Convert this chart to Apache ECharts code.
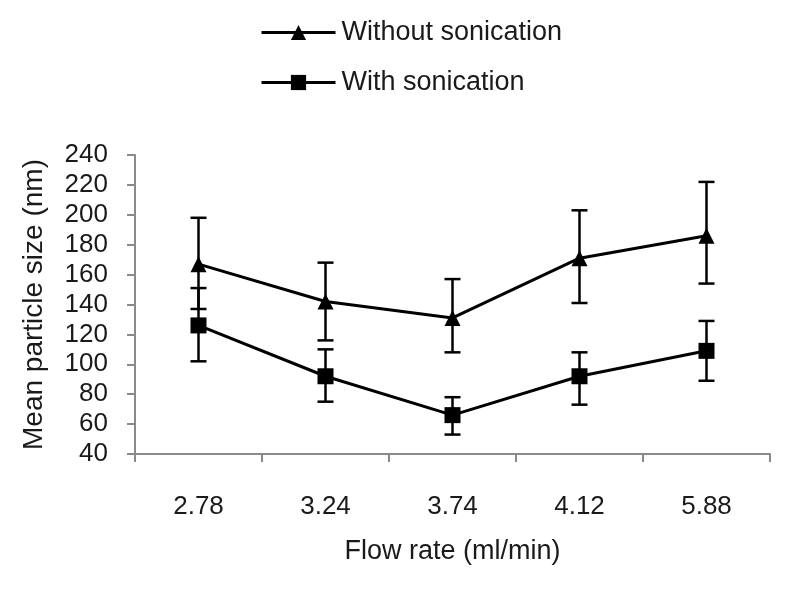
<!DOCTYPE html>
<html>
<head>
<meta charset="utf-8">
<script src="https://cdn.jsdelivr.net/npm/echarts@6/dist/echarts.min.js"></script>
<style>html,body{margin:0;padding:0;background:#fff;}#c{width:800px;height:592px;}</style>
</head>
<body>
<div id="c"></div>
<script>
var categories = ['2.78', '3.24', '3.74', '4.12', '5.88'];
var withoutMean = [167, 142, 131, 171, 186];
var withoutLow = [137, 116, 108, 141, 154];
var withoutHigh = [198, 168, 157, 203, 222];
var withMean = [126, 92, 66, 92, 109];
var withLow = [102, 75, 53, 73, 89];
var withHigh = [151, 110, 78, 108, 129];
var yTicks = [40, 60, 80, 100, 120, 140, 160, 180, 200, 220, 240];

var FONT = '"Liberation Sans", Arial, sans-serif';
var TXT = '#1a1a1a';

function errData(lo, hi) {
  return lo.map(function (v, i) { return [i, v, hi[i]]; });
}
function renderErr(params, api) {
  var x = api.value(0);
  var lo = api.coord([x, api.value(1)]);
  var hi = api.coord([x, api.value(2)]);
  var w = 8;
  var st = { stroke: '#000', lineWidth: 2.5 };
  return {
    type: 'group',
    children: [
      { type: 'line', shape: { x1: hi[0], y1: hi[1], x2: lo[0], y2: lo[1] }, style: st },
      { type: 'line', shape: { x1: hi[0] - w, y1: hi[1], x2: hi[0] + w, y2: hi[1] }, style: st },
      { type: 'line', shape: { x1: lo[0] - w, y1: lo[1], x2: lo[0] + w, y2: lo[1] }, style: st }
    ]
  };
}

var chart = echarts.init(document.getElementById('c'), null, { renderer: 'canvas' });
chart.setOption({
  animation: false,
  backgroundColor: '#fff',
  textStyle: { fontFamily: FONT, color: TXT },
  legend: {
    orient: 'vertical',
    left: 255,
    top: 14,
    itemWidth: 74,
    itemHeight: 19,
    itemGap: 23,
    lineStyle: { width: 3, color: '#000' },
    textStyle: { fontFamily: FONT, fontSize: 27, color: TXT, padding: [0, 0, 0, 1] },
    data: ['Without sonication', 'With sonication']
  },
  grid: { left: 135, right: 30, top: 155, bottom: 138, containLabel: false },
  xAxis: {
    type: 'category',
    data: categories,
    boundaryGap: true,
    name: 'Flow rate (ml/min)',
    nameLocation: 'middle',
    nameGap: 84,
    nameTextStyle: { fontFamily: FONT, fontSize: 27, color: TXT },
    axisLine: { lineStyle: { color: '#8a8a8a', width: 2 } },
    axisTick: { show: true, inside: false, length: 8, lineStyle: { color: '#8a8a8a', width: 2 } },
    axisLabel: { fontFamily: FONT, fontSize: 26, color: TXT, margin: 40 },
    splitLine: { show: false }
  },
  yAxis: {
    type: 'value',
    min: yTicks[0],
    max: yTicks[yTicks.length - 1],
    interval: yTicks[1] - yTicks[0],
    name: 'Mean particle size (nm)',
    nameLocation: 'middle',
    nameGap: 87,
    nameRotate: 90,
    nameTextStyle: { fontFamily: FONT, fontSize: 28, color: TXT },
    axisLine: { show: true, lineStyle: { color: '#8a8a8a', width: 2 } },
    axisTick: { show: true, inside: false, length: 8, lineStyle: { color: '#8a8a8a', width: 2 } },
    axisLabel: { fontFamily: FONT, fontSize: 26, color: TXT, margin: 27 },
    splitLine: { show: false }
  },
  series: [
    {
      name: 'Without sonication',
      type: 'line',
      data: withoutMean,
      symbol: 'triangle',
      symbolSize: 16,
      itemStyle: { color: '#000' },
      lineStyle: { color: '#000', width: 3 },
      z: 3
    },
    {
      name: 'With sonication',
      type: 'line',
      data: withMean,
      symbol: 'rect',
      symbolSize: 16,
      itemStyle: { color: '#000' },
      lineStyle: { color: '#000', width: 3 },
      z: 3
    },
    {
      name: 'errWithout',
      type: 'custom',
      renderItem: renderErr,
      data: errData(withoutLow, withoutHigh),
      encode: { x: 0, y: [1, 2] },
      z: 2
    },
    {
      name: 'errWith',
      type: 'custom',
      renderItem: renderErr,
      data: errData(withLow, withHigh),
      encode: { x: 0, y: [1, 2] },
      z: 2
    }
  ]
});
</script>
</body>
</html>
